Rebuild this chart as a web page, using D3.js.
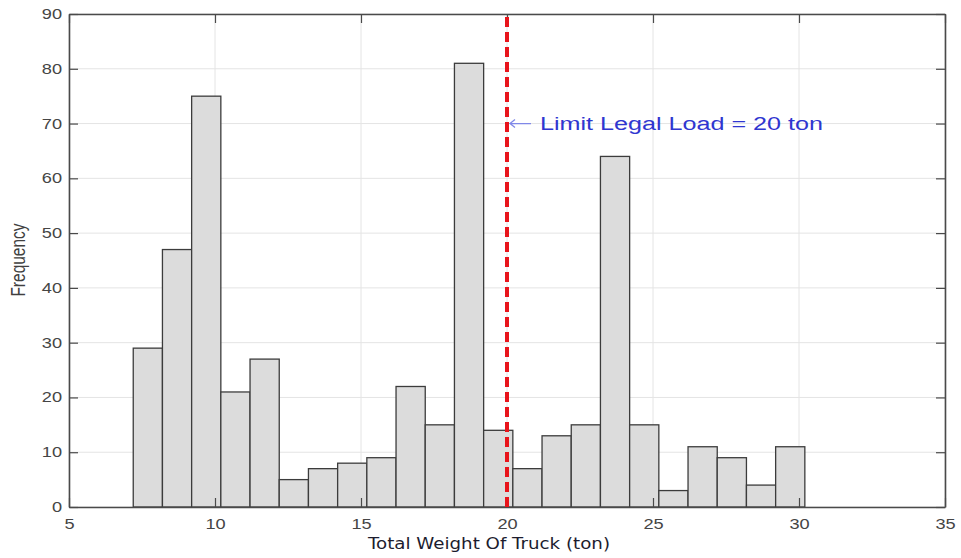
<!DOCTYPE html>
<html>
<head>
<meta charset="utf-8">
<script src="https://cdn.jsdelivr.net/npm/d3@7"></script>
<style>
  body { margin: 0; background: #fff; }
  svg { display: block; }
</style>
</head>
<body>
<svg id="chart" width="961" height="558"></svg>
<script>
// Histogram of truck total weights (bins of 1 ton starting at 7.2 t)
const binStart = 7.2;
const binWidth = 1.0;
const counts = [29, 47, 75, 21, 27, 5, 7, 8, 9, 22, 15, 81, 14, 7, 13, 15, 64, 15, 3, 11, 9, 4, 11];
const xTicks = [5, 10, 15, 20, 25, 30, 35];
const yTicks = [0, 10, 20, 30, 40, 50, 60, 70, 80, 90];
const legalLimit = 20;
const limitLabelY = 70;
const limitLabel = "Limit Legal Load = 20 ton";
const xLabel = "Total Weight Of Truck (ton)";
const yLabel = "Frequency";

const bins = counts.map((c, i) => ({
  x0: binStart + i * binWidth,
  x1: binStart + (i + 1) * binWidth,
  count: c
}));

const svg = d3.select("#chart");
const m = { left: 69, right: 16, top: 14, bottom: 51 };
const W = 961, H = 558;

const x = d3.scaleLinear().domain([5, 35]).range([m.left, W - m.right]);
const y = d3.scaleLinear().domain([0, 90]).range([H - m.bottom, m.top]);

const axisColor = "#4a4a4a";
const gridColor = "#e4e4e4";
const stretch = 1.3; // glyphs drawn wide

// grid
svg.append("g").selectAll("line").data(xTicks).join("line")
  .attr("x1", d => x(d)).attr("x2", d => x(d))
  .attr("y1", y(0)).attr("y2", y(90))
  .attr("stroke", gridColor).attr("stroke-width", 1);
svg.append("g").selectAll("line").data(yTicks).join("line")
  .attr("x1", x(5)).attr("x2", x(35))
  .attr("y1", d => y(d)).attr("y2", d => y(d))
  .attr("stroke", gridColor).attr("stroke-width", 1);

// bars
svg.append("g").selectAll("rect").data(bins).join("rect")
  .attr("x", d => x(d.x0))
  .attr("width", d => x(d.x1) - x(d.x0))
  .attr("y", d => y(d.count))
  .attr("height", d => y(0) - y(d.count))
  .attr("fill", "#dcdcdc")
  .attr("stroke", "#3c3c3c")
  .attr("stroke-width", 1.3);

// axes (ticks pointing inward, MATLAB style)
const tickLen = 9;
const fontTick = "'Liberation Sans', Arial, sans-serif";

const gx = svg.append("g").attr("transform", `translate(0,${y(0)})`)
  .call(d3.axisBottom(x).tickValues(xTicks).tickSizeInner(-tickLen).tickSizeOuter(0).tickPadding(12));
const gy = svg.append("g").attr("transform", `translate(${x(5)},0)`)
  .call(d3.axisLeft(y).tickValues(yTicks).tickSizeInner(-tickLen).tickSizeOuter(0));
const gt = svg.append("g").attr("transform", `translate(0,${y(90)})`)
  .call(d3.axisTop(x).tickValues(xTicks).tickSizeInner(-tickLen).tickSizeOuter(0).tickFormat(""));
const gr = svg.append("g").attr("transform", `translate(${x(35)},0)`)
  .call(d3.axisRight(y).tickValues(yTicks).tickSizeInner(-tickLen).tickSizeOuter(0).tickFormat(""));

[gx, gy, gt, gr].forEach(g => {
  g.select(".domain").attr("stroke", axisColor).attr("stroke-width", 1.6);
  g.selectAll(".tick line").attr("stroke", axisColor).attr("stroke-width", 1.2);
  g.selectAll(".tick text").attr("fill", "#454545")
    .attr("font-family", fontTick).attr("font-size", 14);
});
gx.selectAll(".tick text").attr("transform", `scale(${stretch},1)`);
gy.selectAll(".tick text")
  .attr("x", 0)
  .attr("transform", `translate(-7,0) scale(${stretch},1)`);

// legal load limit line
svg.append("line")
  .attr("x1", x(legalLimit)).attr("x2", x(legalLimit))
  .attr("y1", y(0)).attr("y2", y(90))
  .attr("stroke", "#e8141b").attr("stroke-width", 4)
  .attr("stroke-dasharray", "10,5");

// annotation: arrow pointing at the limit line, then the label
const ay = y(limitLabelY);
const ax0 = x(legalLimit) + 3, ax1 = x(legalLimit) + 24;
svg.append("path")
  .attr("d", `M${ax1},${ay} L${ax0},${ay} M${ax0 + 5},${ay - 4} L${ax0},${ay} L${ax0 + 5},${ay + 4}`)
  .attr("fill", "none")
  .attr("stroke", "#8088e8")
  .attr("stroke-width", 1.3);
svg.append("text")
  .attr("x", x(legalLimit) + 33)
  .attr("y", ay + 6.5)
  .attr("font-family", fontTick)
  .attr("font-size", 18)
  .attr("fill", "#2f36d0")
  .attr("textLength", 283)
  .attr("lengthAdjust", "spacingAndGlyphs")
  .text(limitLabel);

// axis labels
svg.append("text")
  .attr("x", 368).attr("y", 549)
  .attr("font-family", "'DejaVu Sans', Verdana, sans-serif")
  .attr("font-size", 16)
  .attr("fill", "#1c1c2e")
  .attr("textLength", 242)
  .attr("lengthAdjust", "spacingAndGlyphs")
  .text(xLabel);

svg.append("text")
  .attr("transform", `translate(25,260) rotate(-90) scale(1,${stretch})`)
  .attr("text-anchor", "middle")
  .attr("font-family", fontTick)
  .attr("font-size", 15.5)
  .attr("fill", "#404040")
  .text(yLabel);
</script>
</body>
</html>
